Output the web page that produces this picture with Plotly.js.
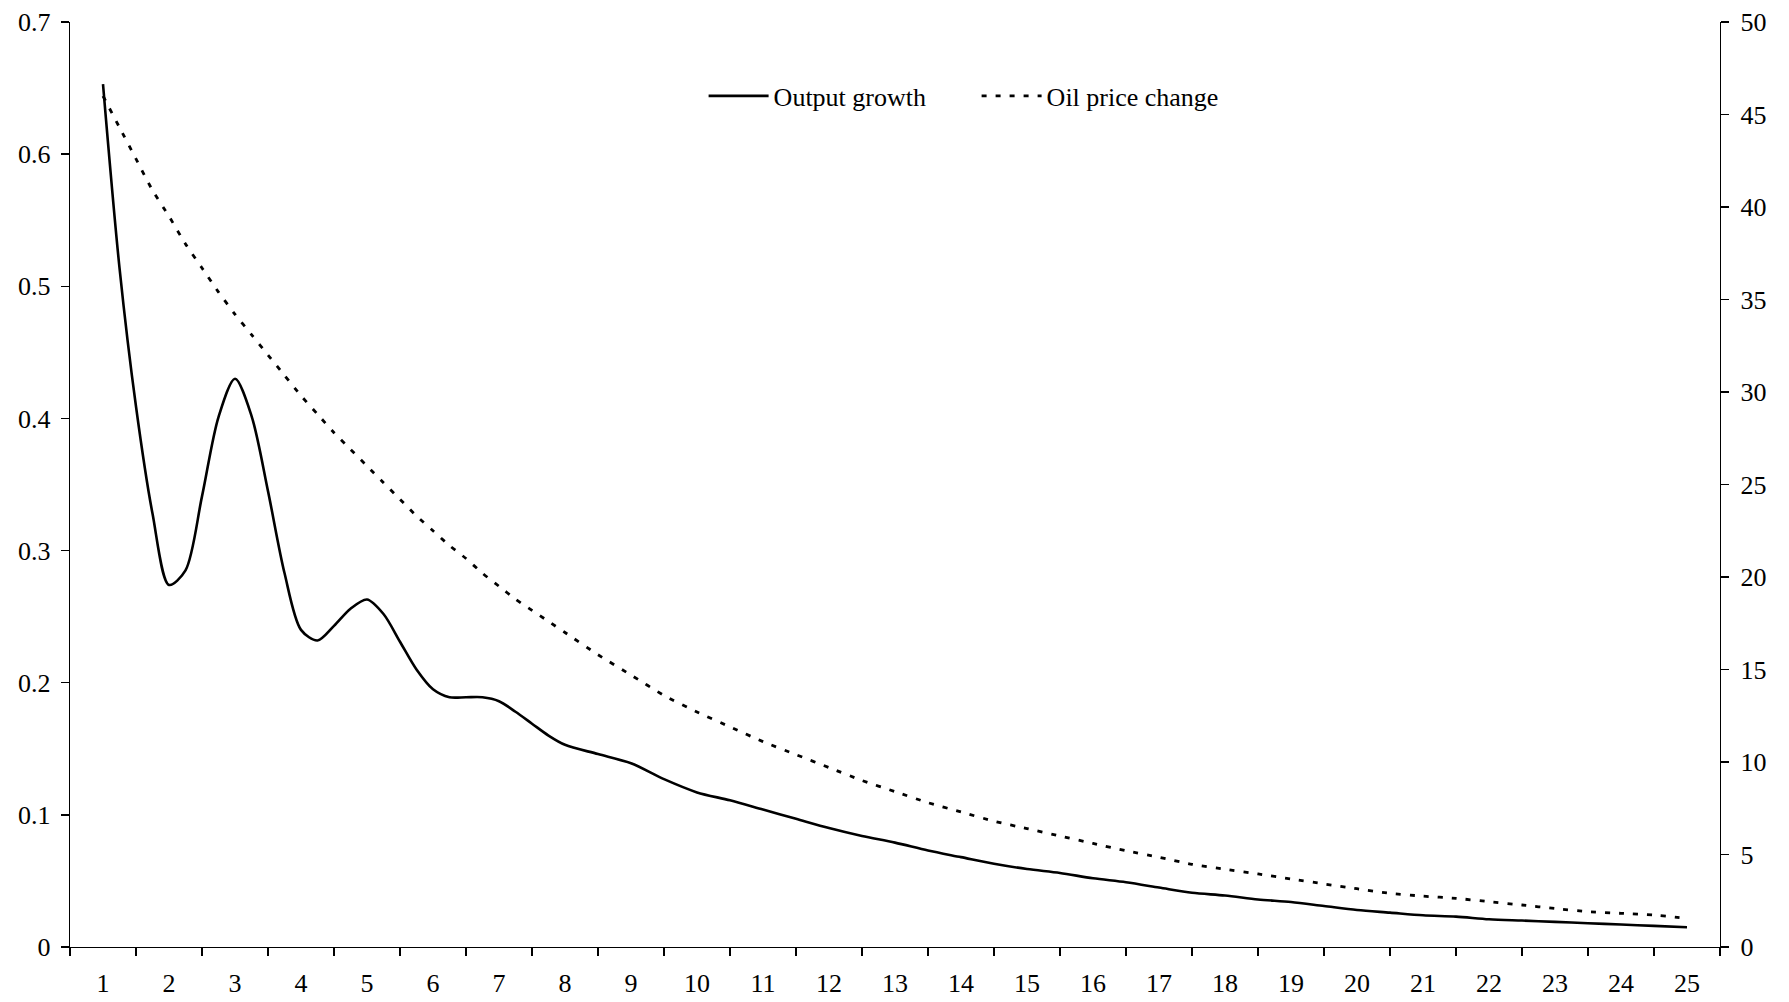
<!DOCTYPE html>
<html>
<head>
<meta charset="utf-8">
<script src="https://cdn.plot.ly/plotly-3.0.1.min.js"></script>
<style>
html,body{margin:0;padding:0;background:#ffffff;}
#chart{width:1789px;height:1002px;}
</style>
</head>
<body>
<div id="chart"></div>
<script>
// Horizon (periods) at which the responses were read
const periods = [
  1, 1.25, 1.5, 1.75, 2, 2.25, 2.5, 2.75, 3, 3.25, 3.5, 3.75, 4, 4.25, 4.5, 4.75,
  5, 5.25, 5.5, 5.75, 6, 6.25, 6.5, 6.75, 7, 7.25, 7.5, 7.75, 8,
  8.5, 9, 9.5, 10, 10.5, 11, 11.5, 12, 12.5, 13, 13.5, 14, 14.5, 15, 15.5, 16, 16.5,
  17, 17.5, 18, 18.5, 19, 19.5, 20, 20.5, 21, 21.5, 22, 22.5, 23, 23.5, 24, 24.5, 25
];

// Output growth (left axis)
const outputGrowth = [
  0.653, 0.514, 0.409, 0.328, 0.274, 0.285, 0.341, 0.401, 0.430, 0.402, 0.345, 0.283, 0.240, 0.232, 0.243, 0.256,
  0.263, 0.252, 0.231, 0.210, 0.195, 0.189, 0.189, 0.189, 0.186, 0.178, 0.169, 0.160, 0.153,
  0.146, 0.139, 0.127, 0.117, 0.111, 0.104, 0.097, 0.090, 0.084, 0.079, 0.073, 0.068, 0.063, 0.059, 0.056, 0.052, 0.049,
  0.045, 0.041, 0.039, 0.036, 0.034, 0.031, 0.028, 0.026, 0.024, 0.023, 0.021, 0.020, 0.019, 0.018, 0.017, 0.016, 0.015
];

// Oil price change (right axis)
const oilPriceChange = [
  46.0, 44.3, 42.6, 40.9, 39.5, 38.0, 36.7, 35.4, 34.2, 33.1, 32.0, 30.9, 29.8, 28.8, 27.8, 26.9,
  26.0, 25.1, 24.2, 23.3, 22.5, 21.7, 21.0, 20.2, 19.5, 18.8, 18.2, 17.6, 17.0,
  15.8, 14.7, 13.6, 12.7, 11.9, 11.1, 10.4, 9.7, 9.0, 8.4, 7.8, 7.3, 6.8, 6.4, 6.0, 5.6, 5.2,
  4.85, 4.47, 4.2, 3.95, 3.68, 3.41, 3.15, 2.90, 2.75, 2.63, 2.45, 2.27, 2.08, 1.91, 1.82, 1.73, 1.55
];

// Category tick labels on the horizontal axis
const xTickVals = [1,2,3,4,5,6,7,8,9,10,11,12,13,14,15,16,17,18,19,20,21,22,23,24,25];
const xTickLabels = xTickVals.map(String);

const leftTicks = [0, 0.1, 0.2, 0.3, 0.4, 0.5, 0.6, 0.7];
const leftTickLabels = ['0', '0.1', '0.2', '0.3', '0.4', '0.5', '0.6', '0.7'];
const rightTicks = [0, 5, 10, 15, 20, 25, 30, 35, 40, 45, 50];
const rightTickLabels = rightTicks.map(String);

const FONT = {family: '"Liberation Serif", "Times New Roman", serif', size: 26, color: '#000000'};

const traces = [
  {
    x: periods, y: outputGrowth, name: 'Output growth',
    type: 'scatter', mode: 'lines', xaxis: 'x', yaxis: 'y',
    line: {color: '#000000', width: 2.6, shape: 'spline', smoothing: 0.85}
  },
  {
    x: periods, y: oilPriceChange, name: 'Oil price change',
    type: 'scatter', mode: 'lines', xaxis: 'x', yaxis: 'y2',
    line: {color: '#000000', width: 2.8, dash: '5px,9px', shape: 'spline', smoothing: 0.6}
  }
];

const layout = {
  width: 1789, height: 1002,
  margin: {l: 70, r: 69, t: 22, b: 55, pad: 0},
  paper_bgcolor: '#ffffff', plot_bgcolor: '#ffffff',
  font: FONT,
  showlegend: true,
  hovermode: false,
  legend: {
    orientation: 'h', x: 0.384, xanchor: 'left', y: 0.92, yanchor: 'middle',
    font: FONT, bgcolor: 'rgba(0,0,0,0)', borderwidth: 0, itemwidth: 60,
    entrywidth: 198, entrywidthmode: 'pixels'
  },
  xaxis: {
    range: [0.5, 25.5], showgrid: false, zeroline: false,
    showline: true, linecolor: '#000000', linewidth: 1.3,
    tickmode: 'array', tickvals: xTickVals, ticktext: xTickLabels,
    ticks: 'outside', ticklen: 8, tickcolor: 'rgba(0,0,0,0)', ticklabelstandoff: 4,
    minor: {tick0: 0.5, dtick: 1, ticks: 'outside', ticklen: 8, tickwidth: 1.3, tickcolor: '#000000', showgrid: false},
    tickfont: FONT
  },
  yaxis: {
    range: [0, 0.7], showgrid: false, zeroline: false,
    showline: true, linecolor: '#000000', linewidth: 1.3,
    tickmode: 'array', tickvals: leftTicks, ticktext: leftTickLabels,
    ticks: 'outside', ticklen: 8, tickwidth: 1.3, tickcolor: '#000000',
    ticklabelstandoff: 5,
    tickfont: FONT
  },
  yaxis2: {
    range: [0, 50], overlaying: 'y', side: 'right', anchor: 'x',
    showgrid: false, zeroline: false,
    showline: true, linecolor: '#000000', linewidth: 1.3,
    tickmode: 'array', tickvals: rightTicks, ticktext: rightTickLabels,
    ticks: 'outside', ticklen: 8, tickwidth: 1.3, tickcolor: '#000000',
    ticklabelstandoff: 6,
    tickfont: FONT
  },
  yaxis3: {
    range: [0, 50], overlaying: 'y', side: 'right', anchor: 'x',
    showgrid: false, zeroline: false, showline: false,
    tickmode: 'array', tickvals: rightTicks, showticklabels: false,
    ticks: 'inside', ticklen: 8, tickwidth: 1.3, tickcolor: '#000000'
  }
};

Plotly.newPlot('chart', traces, layout, {staticPlot: true, displayModeBar: false});
</script>
</body>
</html>
